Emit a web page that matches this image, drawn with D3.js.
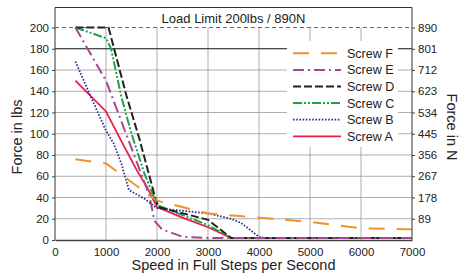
<!DOCTYPE html>
<html>
<head>
<meta charset="utf-8">
<script src="https://cdn.jsdelivr.net/npm/d3@7"></script>
<style>
  body { margin: 0; background: #fff; }
  svg { font-family: "Liberation Sans", Arial, sans-serif; }
</style>
</head>
<body>
<script>
// Valores: [velocidad, fuerza en lbs]
const screwA = [[400,150],[1000,121],[1280,95],[1600,66],[1800,50],[2000,31],[2500,21],[3000,12],[3450,2],[7000,2]];
const screwB = [[400,168],[700,135],[1000,103],[1150,91],[1300,72],[1450,47],[1750,39],[2000,30],[3000,25],[3450,20],[3650,16],[4000,3],[4100,2],[7000,2]];
const screwC = [[400,200],[1000,190],[1100,180],[1300,135],[1500,100],[1750,63],[2000,33],[3000,14],[3450,2],[7000,2]];
const screwD = [[400,200],[1050,200],[1400,136],[1650,96],[1970,39],[2030,31],[3000,19],[3450,2],[7000,2]];
const screwE = [[400,200],[1000,150],[1850,42],[1950,18],[2100,10],[2500,3],[3000,2],[7000,2]];
const screwF = [[400,76],[1000,72],[2000,37],[3000,25],[4000,21],[5000,17],[6000,11],[7000,10]];

const names = ["Screw F", "Screw E", "Screw D", "Screw C", "Screw B", "Screw A"];
const colors = ["#f0922b", "#a5488f", "#222222", "#1ba548", "#2e3192", "#ec1c4a"];
const dashes = ["16,12", "11,4,2,4", "8,3", "9,2,2,2,2,2", "1.6,1.6", null];
const widths = [2, 2, 2, 2, 1.8, 1.8];
const series = [screwF, screwE, screwD, screwC, screwB, screwA];

const xTicks = [0, 1000, 2000, 3000, 4000, 5000, 6000, 7000];
const yTicks = [0, 20, 40, 60, 80, 100, 120, 140, 160, 180, 200];
const newtonLabels = ["89", "178", "267", "356", "445", "534", "623", "712", "801", "890"];

const W = 461, H = 277;
const mLeft = 55, mRight = 412, mTop = 7.5, mBottom = 240;

const svg = d3.select("body").append("svg").attr("width", W).attr("height", H);

const x = d3.scaleLinear().domain([0, 7000]).range([mLeft, mRight]);
const y = d3.scaleLinear().domain([0, 200]).range([mBottom, 27.5]);

// Rejilla
const grid = svg.append("g");
grid.selectAll("line.v").data(xTicks.slice(1, -1)).join("line")
  .attr("x1", d => x(d)).attr("x2", d => x(d))
  .attr("y1", y(200)).attr("y2", y(0))
  .attr("stroke", "#9a9a9a").attr("stroke-width", 0.8);
grid.selectAll("line.h").data(yTicks.filter(d => d > 0 && d < 180)).join("line")
  .attr("x1", mLeft).attr("x2", mRight)
  .attr("y1", d => y(d)).attr("y2", d => y(d))
  .attr("stroke", "#9a9a9a").attr("stroke-width", 0.8);
grid.append("line")
  .attr("x1", mLeft).attr("x2", mRight).attr("y1", y(180)).attr("y2", y(180))
  .attr("stroke", "#111").attr("stroke-width", 1.2);
grid.append("line")
  .attr("x1", mLeft).attr("x2", mRight).attr("y1", y(200)).attr("y2", y(200))
  .attr("stroke", "#444").attr("stroke-width", 0.8).attr("stroke-dasharray", "4,3");

// Líneas de cada tornillo (A primero, F encima)
const line = d3.line().x(d => x(d[0])).y(d => y(d[1]));
const order = [5, 4, 3, 2, 1, 0];
svg.append("g").selectAll("path").data(order).join("path")
  .attr("d", i => line(series[i]))
  .attr("fill", "none")
  .attr("stroke", i => colors[i])
  .attr("stroke-width", i => widths[i])
  .attr("stroke-dasharray", i => dashes[i]);

// Marco
svg.append("path")
  .attr("d", `M${mLeft},${mBottom}V${mTop}H${mRight}V${mBottom}`)
  .attr("fill", "none").attr("stroke", "#333").attr("stroke-width", 1);

// Ejes
const xAxis = svg.append("g").attr("transform", `translate(0,${mBottom})`)
  .call(d3.axisBottom(x).tickValues(xTicks).tickFormat(d3.format("d")).tickSize(0).tickPadding(8));
xAxis.select(".domain").attr("stroke", "#444").attr("stroke-width", 1.5);
xAxis.selectAll("text").attr("font-size", 11.5).attr("fill", "#222");

const yAxis = svg.append("g").attr("transform", `translate(${mLeft},0)`)
  .call(d3.axisLeft(y).tickValues(yTicks).tickSize(3).tickPadding(3));
yAxis.select(".domain").remove();
yAxis.selectAll("line").attr("stroke", "#444");
yAxis.selectAll("text").attr("font-size", 11.5).attr("fill", "#222");

const yRight = svg.append("g").attr("transform", `translate(${mRight},0)`)
  .call(d3.axisRight(y).tickValues(yTicks.slice(1)).tickSize(3).tickPadding(3)
    .tickFormat((d, i) => newtonLabels[i]));
yRight.select(".domain").remove();
yRight.selectAll("line").attr("stroke", "#444");
yRight.selectAll("text").attr("font-size", 11.5).attr("fill", "#222");

// Títulos
svg.append("text").attr("x", (mLeft + mRight) / 2).attr("y", 22.5)
  .attr("text-anchor", "middle").attr("font-size", 13).attr("fill", "#222")
  .text("Load Limit 200lbs / 890N");
svg.append("text").attr("x", (mLeft + mRight) / 2).attr("y", 270)
  .attr("text-anchor", "middle").attr("font-size", 14.5).attr("fill", "#222")
  .text("Speed in Full Steps per Second");
svg.append("text").attr("transform", "translate(22,137) rotate(-90)")
  .attr("text-anchor", "middle").attr("font-size", 14.5).attr("fill", "#222")
  .text("Force in lbs");
svg.append("text").attr("transform", "translate(447,127) rotate(90)")
  .attr("text-anchor", "middle").attr("font-size", 14.5).attr("fill", "#222")
  .text("Force in N");

// Leyenda
const legend = svg.append("g");
legend.append("rect").attr("x", 287).attr("y", 41).attr("width", 111).attr("height", 106).attr("fill", "#fff");
const items = legend.selectAll("g").data(names).join("g")
  .attr("transform", (d, i) => `translate(0,${53.3 + i * 16.6})`);
items.append("line")
  .attr("x1", 293).attr("x2", 341).attr("y1", 0).attr("y2", 0)
  .attr("stroke", (d, i) => colors[i])
  .attr("stroke-width", (d, i) => widths[i])
  .attr("stroke-dasharray", (d, i) => dashes[i]);
items.append("text").attr("x", 347).attr("y", 4.5)
  .attr("font-size", 12.5).attr("fill", "#222")
  .text(d => d);
</script>
</body>
</html>
